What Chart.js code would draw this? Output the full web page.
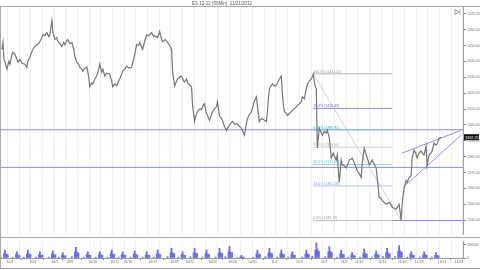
<!DOCTYPE html>
<html>
<head>
<meta charset="utf-8">
<script src="https://cdn.jsdelivr.net/npm/chart.js@4.4.0/dist/chart.umd.min.js"></script>
<style>
  body { margin: 0; background: #fff; }
  #wrap { position: relative; width: 480px; height: 270px; overflow: hidden; }
  #priceChart { position: absolute; left: 0; top: 0; }
  #volChart { position: absolute; left: 0; top: 238px; }
</style>
</head>
<body>
<div id="wrap">
  <canvas id="priceChart" width="480" height="238"></canvas>
  <canvas id="volChart" width="480" height="32"></canvas>
</div>
<script>
// ES 12-12, 60 min. x = trading days counted from Oct 1 2012
const titleText = "ES 12-12 (60Min)  11/21/2012";

const priceDays = [-0.43,-0.34,-0.26,-0.17,0,0.17,0.26,0.43,0.51,0.68,
  0.85,0.94,1.11,1.28,1.54,1.71,1.79,1.97,2.14,2.22,
  2.39,2.56,2.74,2.82,2.99,3.08,3.25,3.42,3.59,3.68,
  3.85,3.93,4.10,4.27,4.36,4.53,4.70,4.87,4.96,5.13,
  5.21,5.38,5.56,5.73,5.81,5.98,6.15,6.24,6.41,6.50,
  6.67,6.84,7.01,7.09,7.26,7.35,7.52,7.69,7.86,7.95,
  8.12,8.21,8.38,8.55,8.80,8.97,9.06,9.23,9.40,9.57,
  9.66,9.83,9.91,10.09,10.26,10.43,10.68,10.85,10.94,11.11,
  11.28,11.37,11.54,11.62,11.79,11.97,12.14,12.39,12.56,12.65,
  12.91,13.08,13.25,13.33,13.59,13.76,13.93,14.10,14.19,14.36,
  14.53,14.62,14.79,14.96,15.13,15.21,15.38,15.47,15.64,15.81,
  15.90,16.07,16.15,16.32,16.50,16.67,16.84,16.92,17.09,17.18,
  17.35,17.52,17.61,17.78,17.95,18.03,18.21,18.38,18.46,18.63,
  18.80,18.97,19.06,19.23,19.32,19.49,19.66,19.83,19.91,20.09,
  20.17,20.34,20.51,20.60,20.77,20.94,21.11,21.20,21.37,21.45,
  21.62,21.79,21.97,22.05,22.22,22.31,22.39,22.48,22.56,22.74,
  22.91,23.08,23.25,23.33,23.50,23.59,23.68,23.76,23.93,24.02,
  24.19,24.36,24.53,24.62,24.79,24.87,25.04,25.21,25.30,25.47,
  25.64,25.73,25.90,26.07,26.24,26.32,26.41,26.50,26.58,26.75,
  27.01,27.18,27.35,27.44,27.61,27.78,27.95,28.03,28.21,28.29,
  28.46,28.63,28.72,28.89,29.06,29.23,29.32,29.49,29.57,29.74,
  29.91,30.00,30.17,30.34,30.43,30.60,30.77,30.94,31.03,31.20,
  31.28,31.45,31.62,31.71,31.88,32.05,32.14,32.31,32.48,32.65,
  32.74,32.91,32.99,33.16,33.33,33.50,33.59,33.76,33.85,33.93,
  34.02,34.19,34.27,34.44,34.62,34.70,34.87,35.04,35.13,35.30,
  35.47,35.64,35.73,35.90,35.98,36.15,36.32,36.41,36.58,36.75,
  36.84,37.01,37.18];

const prices = [1447.6,1452.0,1441.4,1439.6,1435.2,1440.2,1438.3,1444.5,1445.8,1444.5,
  1441.4,1439.6,1441.4,1438.9,1438.3,1436.4,1440.2,1442.7,1446.4,1447.6,
  1449.5,1450.7,1451.4,1452.6,1455.1,1457.0,1456.3,1458.2,1455.7,1457.0,
  1465.7,1458.8,1453.9,1455.1,1452.6,1451.4,1449.5,1452.0,1450.7,1453.2,
  1453.9,1451.4,1452.0,1447.6,1443.3,1439.6,1438.3,1436.4,1435.2,1434.0,
  1435.8,1436.4,1430.2,1424.0,1426.5,1425.9,1429.0,1430.8,1435.2,1438.3,
  1433.3,1435.2,1430.8,1432.7,1432.1,1427.7,1424.0,1425.9,1424.6,1427.7,
  1429.0,1432.1,1434.0,1435.2,1437.1,1435.8,1436.4,1441.4,1444.5,1450.7,
  1450.1,1452.0,1448.9,1447.6,1452.6,1457.0,1456.3,1458.2,1455.7,1456.3,
  1455.1,1458.8,1453.9,1452.6,1453.9,1452.0,1450.1,1447.6,1433.3,1424.6,
  1427.7,1429.0,1430.2,1430.8,1427.7,1427.1,1429.0,1426.5,1425.2,1424.0,
  1412.2,1402.2,1405.3,1408.5,1410.3,1409.7,1412.8,1413.4,1407.2,1406.0,
  1402.9,1406.6,1408.5,1410.3,1411.6,1414.7,1405.3,1404.1,1402.9,1399.1,
  1396.6,1399.1,1399.8,1401.6,1402.2,1400.4,1401.0,1399.8,1399.1,1397.9,
  1396.6,1393.5,1401.0,1404.1,1406.6,1408.5,1412.8,1415.3,1417.8,1412.2,
  1402.2,1404.1,1403.5,1402.9,1402.2,1408.5,1416.5,1422.8,1424.0,1425.9,
  1424.6,1425.2,1427.7,1429.0,1430.8,1419.7,1412.2,1408.5,1407.2,1406.0,
  1407.2,1408.5,1409.7,1410.3,1411.6,1412.2,1413.4,1414.7,1417.8,1416.5,
  1422.8,1425.9,1427.7,1429.0,1432.1,1427.7,1424.0,1422.8,1385.4,1397.9,
  1393.5,1396.0,1394.8,1396.6,1391.7,1379.2,1382.3,1380.5,1378.0,1381.1,
  1363.7,1378.0,1374.9,1374.3,1373.0,1376.1,1378.0,1378.6,1379.2,1376.1,
  1373.0,1371.1,1369.3,1366.8,1376.1,1385.4,1381.1,1377.4,1374.9,1376.7,
  1378.0,1375.5,1373.0,1366.8,1354.4,1353.7,1352.5,1351.2,1350.0,1350.6,
  1351.2,1349.4,1348.1,1347.5,1346.9,1348.8,1350.0,1340.0,1350.0,1355.6,
  1360.6,1364.9,1363.7,1366.8,1368.0,1379.2,1384.2,1381.7,1379.2,1382.3,
  1383.6,1381.7,1381.1,1386.7,1374.3,1381.1,1382.3,1383.6,1388.6,1387.3,
  1388.0,1391.7,1392.3];
const lastPrice = "1392.25";

// price axis
const priceTicks = [1470,1460,1450,1440,1430,1420,1410,1400,1390,1380,1370,1360,1350,1340];
const yMin = 1330.7, yMax = 1475;
const xMin = -0.51, xMax = 39.06;

// drawing tools
const supportLevels = [1397.0, 1373.25];
const fibHigh = 1432.25, fibLow = 1339.75;
const fibHighDay = 26.24, fibLowDay = 33.76, fibEndDay = 32.99;
const fibRatios = [1, 0.764, 0.618, 0.5, 0.382, 0.236, 0];
const fibColors = ["#b4b4b4", "#8c8ce6", "#8ccfd6", "#d0d0d0", "#9ed8dc", "#b8c4ec", "#bdbdbd"];
const fibTextColors = ["#999", "#6666cc", "#3aa6b0", "#aaa", "#5ec0c8", "#90a0e0", "#999"];
const channelUpperDays = [33.85, 38.89], channelUpper = [1382.3, 1396.6];
const channelLowerDays = [34.02, 38.89], channelLower = [1361.2, 1393.5];

// volume (thousand contracts), one cluster per session
const volDays = [-0.17,0.85,1.79,2.82,3.93,4.79,5.90,6.92,7.95,8.97,9.91,10.94,11.97,12.91,
  14.10,15.04,16.07,17.09,18.21,19.06,20.09,21.45,22.48,23.50,24.44,25.64,26.50,27.61,
  28.63,29.57,30.60,31.62,32.56,33.59,34.62,35.73,36.75];
const volOpen = [180,140,180,140,160,120,240,140,140,180,140,160,140,180,
  220,140,220,180,220,260,60,180,220,180,140,180,340,260,
  180,120,200,160,220,280,140,140,120];
const volPre = [100,80,90,70,90,60,130,80,70,100,80,90,70,100,
  120,80,120,100,110,140,30,100,120,100,80,90,180,140,
  100,70,110,90,120,150,80,70,60];
const volMid = [90,70,100,60,80,50,140,70,80,90,70,80,60,90,
  110,70,110,90,120,130,20,90,110,90,70,100,200,150,
  90,60,100,80,110,160,70,80,60];
const volClose = [80,60,80,70,70,50,110,60,60,80,60,70,60,80,
  100,60,100,80,100,120,20,80,100,80,60,80,150,120,
  80,50,90,70,100,130,60,60,50];
const volNight = [20,20,20,20,20,20,30,20,20,20,20,20,20,20,
  30,20,30,20,20,30,10,20,30,20,20,20,40,30,
  20,20,20,20,30,30,20,20,20];
const volTicks = [0, 300];

// date labels (Mon / Wed / Fri)
const labelDays = [0.26,2.22,4.10,5.38,7.35,9.23,10.34,12.48,14.36,15.64,17.61,19.32,
  21.03,22.91,25.04,27.18,28.89,30.17,32.14,33.85,35.30,37.26,38.72];
const labelTexts = ["10/1","10/3","10/5","10/8","10/10","10/12","10/15","10/17","10/19",
  "10/22","10/24","10/26","10/31","11/2","11/5","11/7","11/9","11/12","11/14","11/16",
  "11/19","11/21","11/23"];

const FONT = "'Liberation Sans', Arial, sans-serif";

function seg(x0, y0, x1, y1) {
  return [{x: x0, y: y0}, {x: x1, y: y1}];
}
function lineSet(data, color, width) {
  return { type: "line", data: data, borderColor: color, borderWidth: width,
           pointRadius: 0, tension: 0, fill: false };
}

function dailyGrid(chart) {
  const ctx = chart.ctx, a = chart.chartArea, sx = chart.scales.x;
  ctx.save();
  ctx.strokeStyle = "#efefef";
  ctx.lineWidth = 1;
  for (let d = Math.ceil(xMin); d <= xMax; d++) {
    const px = Math.round(sx.getPixelForValue(d)) + 0.5;
    ctx.beginPath();
    ctx.moveTo(px, a.top);
    ctx.lineTo(px, a.bottom);
    ctx.stroke();
  }
  ctx.restore();
}

const fibLevels = fibRatios.map(r => fibLow + r * (fibHigh - fibLow));

let datasets = [];
datasets.push(lineSet(priceDays.map((d, i) => ({x: d, y: prices[i]})), "#757575", 1.2));
fibLevels.forEach((lv, i) => {
  datasets.push(lineSet(seg(fibHighDay, lv, fibEndDay, lv), fibColors[i], 1));
});
supportLevels.forEach(lv => {
  datasets.push(lineSet(seg(xMin, lv, xMax, lv), "rgba(120,120,250,0.85)", 1));
});
datasets.push(lineSet(seg(fibEndDay, fibLow, xMax, fibLow), "rgba(120,120,250,0.85)", 1));
datasets.push(lineSet(seg(fibHighDay, fibHigh, fibLowDay, fibLow), "#c8c8c8", 0.8));
datasets.push(lineSet(seg(channelUpperDays[0], channelUpper[0], channelUpperDays[1], channelUpper[1]), "rgba(120,120,250,0.85)", 1));
datasets.push(lineSet(seg(channelLowerDays[0], channelLower[0], channelLowerDays[1], channelLower[1]), "rgba(120,120,250,0.85)", 1));

const priceOverlay = {
  id: "priceOverlay",
  beforeDatasetsDraw(chart) { dailyGrid(chart); },
  afterDraw(chart) {
    const ctx = chart.ctx, sx = chart.scales.x, sy = chart.scales.y, a = chart.chartArea;
    ctx.save();
    // frame
    ctx.strokeStyle = "#a8a8a8";
    ctx.lineWidth = 1;
    ctx.beginPath();
    ctx.moveTo(0, 6.5); ctx.lineTo(480, 6.5);
    ctx.moveTo(0.5, 6); ctx.lineTo(0.5, 238);
    ctx.moveTo(0, 237.5); ctx.lineTo(480, 237.5);
    ctx.stroke();
    // title
    ctx.fillStyle = "#555";
    ctx.font = "4.5px " + FONT;
    ctx.textAlign = "center";
    ctx.textBaseline = "middle";
    ctx.fillText(titleText, 222, 3.5);
    // fib labels
    ctx.textAlign = "left";
    ctx.textBaseline = "bottom";
    ctx.font = "3.5px " + FONT;
    fibLevels.forEach((lv, i) => {
      const t = (fibRatios[i] * 100).toFixed(1) + "% (" + lv.toFixed(2) + ")";
      ctx.fillStyle = fibTextColors[i];
      ctx.fillText(t, sx.getPixelForValue(fibHighDay), sy.getPixelForValue(lv) - 0.5);
    });
    // last price box
    const py = sy.getPixelForValue(prices[prices.length - 1]);
    ctx.fillStyle = "#111";
    ctx.fillRect(a.right + 1, py - 3, 15, 6);
    ctx.fillStyle = "#fff";
    ctx.font = "3.8px " + FONT;
    ctx.textBaseline = "middle";
    ctx.fillText(lastPrice, a.right + 2, py + 0.3);
    // scroll icon
    ctx.strokeStyle = "#888";
    ctx.lineWidth = 0.8;
    ctx.beginPath();
    ctx.moveTo(455, 9.5); ctx.lineTo(459, 12); ctx.lineTo(455, 14.5); ctx.closePath();
    ctx.moveTo(460, 9.5); ctx.lineTo(460, 14.5);
    ctx.stroke();
    ctx.restore();
  }
};

new Chart(document.getElementById("priceChart"), {
  type: "line",
  data: { datasets: datasets },
  options: {
    responsive: false,
    animation: false,
    events: [],
    layout: { padding: { left: 1, top: 6, right: 0, bottom: 0 } },
    plugins: { legend: { display: false }, tooltip: { enabled: false } },
    scales: {
      x: {
        type: "linear", min: xMin, max: xMax,
        grid: { display: false }, border: { display: false },
        ticks: { display: false },
        afterFit: s => { s.height = 0; }
      },
      y: {
        position: "right", min: yMin, max: yMax,
        afterBuildTicks: s => { s.ticks = priceTicks.map(v => ({value: v})); },
        afterFit: s => { s.width = 17; },
        grid: { drawOnChartArea: false, tickLength: 3, color: "#888" },
        border: { display: true, color: "#a0a0a0" },
        ticks: { padding: 1, color: "#777", font: { size: 3.5, family: FONT },
                 callback: v => v.toFixed(2) }
      }
    }
  },
  plugins: [priceOverlay]
});

const volOverlay = {
  id: "volOverlay",
  beforeDatasetsDraw(chart) { dailyGrid(chart); },
  afterDraw(chart) {
    const ctx = chart.ctx;
    ctx.save();
    ctx.strokeStyle = "#a8a8a8";
    ctx.lineWidth = 1;
    ctx.beginPath();
    ctx.moveTo(0.5, 0); ctx.lineTo(0.5, 30.5);
    ctx.moveTo(0, 30.5); ctx.lineTo(480, 30.5);
    ctx.stroke();
    ctx.restore();
  }
};

const volColor = "#6c6cf0";
function volSet(offset, vals) {
  return { data: volDays.map((d, i) => ({x: d + offset, y: vals[i]})),
           backgroundColor: volColor, barThickness: 1.2, grouped: false };
}

new Chart(document.getElementById("volChart"), {
  type: "bar",
  data: { datasets: [volSet(-0.35, volNight), volSet(-0.08, volPre), volSet(0, volOpen),
                     volSet(0.09, volMid), volSet(0.22, volClose)] },
  options: {
    responsive: false,
    animation: false,
    events: [],
    layout: { padding: { left: 1, top: 0, right: 0, bottom: 0 } },
    plugins: { legend: { display: false }, tooltip: { enabled: false } },
    scales: {
      x: {
        type: "linear", min: xMin, max: xMax, offset: false,
        afterBuildTicks: s => { s.ticks = labelDays.map(v => ({value: v})); },
        afterFit: s => { s.height = 12; },
        grid: { drawOnChartArea: false, tickLength: 2, color: "#888" },
        border: { display: true, color: "#999" },
        ticks: { autoSkip: false, maxRotation: 0, padding: 0, color: "#666",
                 font: { size: 3.5, family: FONT },
                 callback: (v, i) => labelTexts[i] }
      },
      y: {
        position: "right", min: 0, max: 380,
        afterBuildTicks: s => { s.ticks = volTicks.map(v => ({value: v})); },
        afterFit: s => { s.width = 17; },
        grid: { drawOnChartArea: false, tickLength: 3, color: "#888" },
        border: { display: true, color: "#a0a0a0" },
        ticks: { padding: 1, color: "#777", font: { size: 3.5, family: FONT },
                 callback: v => (v === 0 ? "0" : v * 1000) }
      }
    }
  },
  plugins: [volOverlay]
});
</script>
</body>
</html>
